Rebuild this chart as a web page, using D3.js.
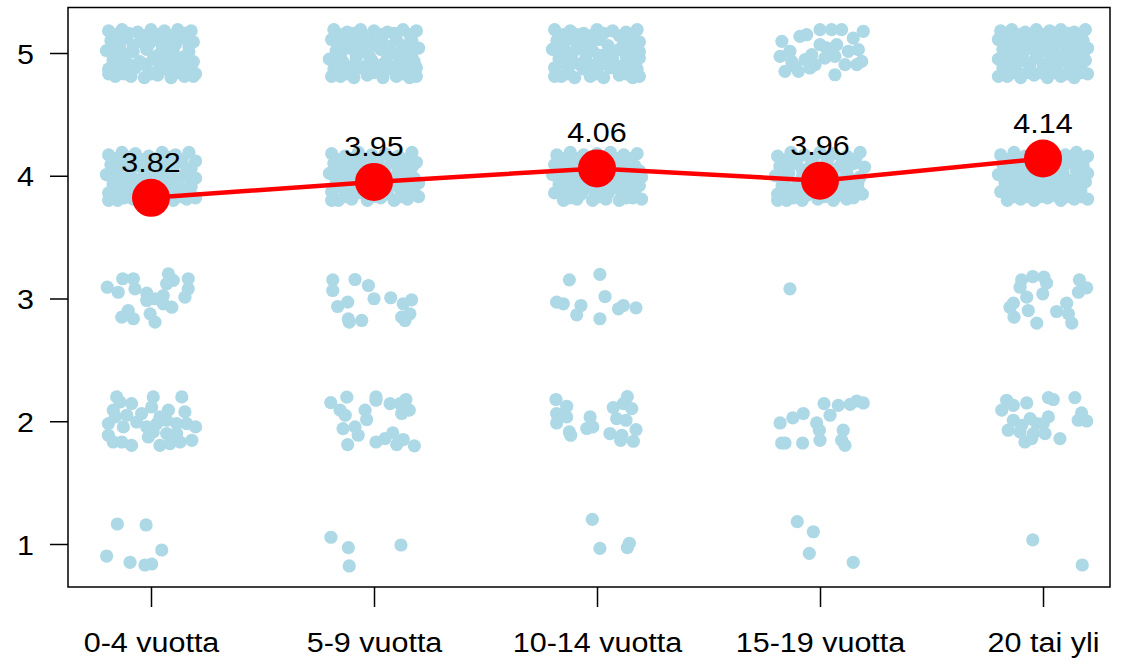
<!DOCTYPE html>
<html>
<head>
<meta charset="utf-8">
<script src="https://cdn.jsdelivr.net/npm/d3@7"></script>
<style>
  html, body { margin: 0; padding: 0; background: #ffffff; }
  svg { display: block; }
  text { font-family: "Liberation Sans", Arial, sans-serif; fill: #000; }
</style>
</head>
<body>
<svg id="chart" width="1121" height="665"></svg>
<script>
// ---------------- DATA ----------------
const categories = ["0-4 vuotta", "5-9 vuotta", "10-14 vuotta", "15-19 vuotta", "20 tai yli"];
const means = [3.82, 3.95, 4.06, 3.96, 4.14];
const yTicks = [1, 2, 3, 4, 5];

// Jittered responses per group, keyed by answer level.
// Each entry: [x jitter, y jitter] in hundredths of a unit.
const pts_0_4 = {
  5: [[-19,18],[-13,19],[-6,17],[0,19],[6,18],[12,19],[18,18],
      [-18,10],[-11,12],[-5,9],[2,11],[8,10],[14,12],[19,9],
      [-20,2],[-14,4],[-8,1],[-2,3],[5,2],[10,4],[17,1],
      [-17,-6],[-12,-4],[-5,-7],[1,-5],[7,-6],[13,-4],[19,-7],
      [-19,-13],[-13,-14],[-7,-12],[-1,-15],[6,-13],[11,-14],[18,-12],
      [-16,-19],[-9,-19],[-3,-20],[3,-18],[9,-20],[15,-19],[20,-17],
      [-16,15],[-10,16],[-3,14],[3,15],[9,14],[15,16],[-15,7],[-8,6],[-1,7],[5,6],
      [11,7],[17,5],[-17,-2],[-11,-1],[3,-2],[9,-1],[15,-3],[-15,-9],[-9,-10],
      [-3,-9],[4,-10],[10,-9],[16,-10],[-12,-17],[0,-17],[12,-16],[-19,-17],[19,-19]],
  4: [[-19,17],[-13,19],[-7,18],[-1,16],[5,19],[11,17],[17,19],[20,12],
      [-18,9],[-12,11],[-6,8],[0,10],[7,9],[13,11],[18,6],
      [-20,1],[-15,3],[-9,0],[-3,2],[3,1],[9,3],[15,0],[20,-2],
      [-17,-7],[-11,-5],[-5,-8],[1,-6],[7,-4],[12,-8],[18,-9],
      [-19,-14],[-13,-13],[-7,-15],[-1,-12],[5,-14],[11,-16],[17,-14],
      [-15,-20],[-8,-19],[-2,-20],[4,-19],[10,-20],[16,-19],[20,-18],
      [-16,14],[-10,15],[-4,13],[2,14],[8,15],[14,13],[-15,5],[-9,6],[-3,5],[4,6],
      [10,7],[16,4],[-17,-3],[-12,-2],[-6,-4],[0,-2],[6,-1],[12,-3],[18,-5],
      [-15,-10],[-9,-11],[-3,-10],[3,-9],[9,-12],[15,-11],[-12,-18],[1,-17],[13,-17],[-19,-20]],
  3: [[-19.6,9.2],[-14.7,5.1],[-12.7,16.1],[-7.9,16.1],[-7.2,7.9],[-1.9,4.3],
      [1.8,-0.2],[5.5,2.4],[7.8,20.1],[10,14.7],[16.7,16.1],[16.7,7.9],
      [15.2,1.1],[9.3,-7.1],[5.5,-4.3],[-0.4,-12.5],[1.8,-19.3],[-13.1,-15.2],
      [-10.2,-9.8],[-7.9,-16.5],[7,12],[-1.9,-1.6]],
  2: [[-15.4,19.8],[-13.9,15.7],[-8.7,14.4],[1,19.8],[13.8,19.8],[7.8,9],
      [15.2,7.6],[-16.9,9],[-10.9,4.9],[-4.2,6.3],[0.3,11.6],[-19.1,-1.9],
      [-12.4,-4.6],[-6.4,-0.6],[-1.9,-4.6],[2.6,-1.9],[7,0.8],[11.5,-1.9],
      [16,-1.9],[20,-4.6],[-19.1,-11.4],[-16.9,-16.9],[-13.1,-16.9],[-8.7,-19.6],
      [-1.2,-12.8],[4,-19.6],[8.5,-18.2],[13,-16.9],[18.3,-15.5],[1,-8.7],
      [7,-10],[11.5,-10],[4,3.5],[-16.1,3.5]],
  1: [[-15.1,16.3],[-2.2,15.5],[4.8,-4.9],[-19.9,-9.8],[-9.4,-14.9],[-2.7,-17.1],[0.3,-16.3]]
};

const pts_5_9 = {
  5: [[-18,19],[-12,17],[-6,19],[0,18],[6,17],[13,19],[19,18],
      [-19,11],[-14,9],[-8,12],[-2,10],[4,8],[10,11],[17,10],
      [-17,2],[-11,4],[-4,1],[3,3],[9,0],[15,2],[20,4],
      [-20,-5],[-14,-7],[-8,-4],[-1,-6],[5,-8],[12,-5],[18,-7],
      [-18,-13],[-12,-15],[-6,-12],[1,-14],[7,-13],[14,-15],[19,-12],
      [-15,-19],[-9,-20],[-3,-18],[4,-20],[10,-19],[16,-20],
      [-15,15],[-9,16],[-3,14],[3,15],[9,16],[16,15],[-16,6],[-10,7],[-5,5],[1,6],
      [7,5],[13,6],[-15,-2],[-8,-1],[-2,-3],[6,-2],[12,-1],[17,-3],[-16,-10],
      [-10,-11],[-3,-10],[4,-9],[10,-10],[16,-11],[-12,-17],[0,-16],[13,-17],[19,-19],[-19,-19]],
  4: [[-19,18],[-13,16],[-7,19],[-1,17],[5,18],[11,16],[17,19],
      [-18,10],[-12,8],[-5,11],[1,9],[8,11],[14,9],[19,11],
      [-20,2],[-14,0],[-8,3],[-2,1],[4,2],[10,0],[16,3],
      [-17,-6],[-11,-4],[-4,-7],[2,-5],[8,-7],[14,-4],[20,-6],
      [-19,-13],[-13,-12],[-7,-14],[0,-13],[6,-15],[12,-12],[18,-14],
      [-16,-20],[-10,-19],[-3,-20],[3,-18],[9,-20],[15,-19],[20,-17],
      [-16,13],[-10,14],[-4,14],[2,13],[8,14],[14,13],[-15,5],[-9,6],[-2,5],[5,6],
      [11,5],[17,7],[-17,-2],[-11,0],[-5,-2],[1,-1],[7,-2],[13,-1],[18,-2],
      [-16,-9],[-9,-10],[-2,-9],[5,-10],[11,-9],[16,-10],[-13,-17],[0,-17],[12,-17],[-19,-20]],
  3: [[-18.5,15.2],[-18.5,6.5],[-8.5,15.5],[-2.5,10.6],[-16.3,-6.5],[-11.8,-3],
      [0,-0.2],[7.5,0.6],[-11.5,-16.6],[-11.1,-19.3],[-5.5,-17.9],[16.9,-1.1],
      [13.1,-4.3],[16.1,-12.5],[12.4,-15.2],[13.9,-17.9]],
  2: [[-19.4,15.2],[-12.2,19.6],[-15.2,9],[-12.9,4.9],[-4,9],[-3.3,1.4],
      [0.9,19.8],[0.9,17.1],[7.2,14.4],[11.7,14.4],[14.3,17.7],[15.8,9],
      [12.4,6.3],[-13.9,-6],[-8.5,-4.6],[-7.1,-11.4],[-11.8,-19],[0.9,-16.9],
      [4.9,-14.1],[8.4,-9.5],[10.2,-19],[13.1,-14.9],[18.1,-20]],
  1: [[-19.3,5.5],[-11.5,-3],[-11.1,-17.9],[12.1,-0.8]]
};

const pts_10_14 = {
  5: [[-19,19],[-12,18],[-6,16],[0,19],[7,18],[13,17],[18,19],
      [-18,10],[-12,12],[-6,9],[1,11],[5,6],[12,10],[19,9],
      [-20,3],[-14,1],[-8,4],[-2,2],[4,-1],[10,3],[16,1],
      [-17,-5],[-11,-7],[-5,-4],[1,-6],[7,-5],[13,-8],[19,-4],
      [-19,-12],[-13,-14],[-6,-13],[0,-15],[6,-12],[12,-15],[18,-13],
      [-16,-19],[-10,-20],[-3,-19],[3,-20],[10,-18],[16,-20],
      [-15,15],[-9,15],[-3,14],[3,16],[10,14],[16,15],[-15,6],[-9,7],[-3,6],[15,5],
      [-17,-1],[-11,0],[-5,0],[1,-2],[7,1],[13,-2],[19,1],[-14,-9],[-8,-9],
      [-2,-10],[4,-9],[10,-11],[16,-9],[-13,-17],[0,-17],[13,-17],[19,-19],[-19,-19]],
  4: [[-18,17],[-12,19],[-6,17],[0,18],[6,19],[12,17],[18,18],
      [-19,9],[-13,11],[-7,8],[-1,10],[5,9],[11,11],[17,8],
      [-20,1],[-15,3],[-9,0],[-3,2],[3,0],[9,3],[15,1],[20,-1],
      [-17,-7],[-11,-5],[-5,-8],[1,-6],[7,-4],[13,-7],[19,-8],
      [-19,-14],[-13,-13],[-7,-15],[-1,-13],[5,-14],[11,-12],[17,-15],
      [-15,-20],[-9,-19],[-2,-20],[4,-19],[10,-20],[16,-18],
      [-15,14],[-9,14],[-3,14],[3,15],[9,14],[15,14],[-16,5],[-10,6],[-4,5],[2,5],
      [8,6],[14,5],[19,4],[-17,-3],[-12,-2],[-6,-4],[0,-3],[6,-1],[12,-3],[17,-4],
      [-15,-10],[-9,-11],[-3,-10],[3,-9],[8,-10],[14,-11],[-12,-18],[1,-17],[13,-18],[20,-19]],
  3: [[-12.4,15.2],[1.3,19.6],[-18.1,-3],[-15.1,-4.3],[-7.2,-5.7],[-9.1,-13.3],
      [1.3,-16.5],[3.6,1.6],[9.6,-8.4],[11.8,-5.7],[17.5,-7.6]],
  2: [[-18.4,17.7],[-13.6,12.2],[-18.1,6.3],[-13.6,3.5],[-18.1,-1.4],[-12.4,-8.7],
      [-11.8,-11.4],[-3.1,3.5],[-4.6,-5.9],[-1.9,-4.6],[13.6,20],[7.3,11.2],
      [11.8,14.4],[15.6,10.3],[8.8,2.2],[13,0.8],[5.8,-10],[11.1,-11.4],
      [10.6,-15.5],[16.3,-16.3],[17.5,-6.8]],
  1: [[-2.1,20],[1.3,-3.5],[13.6,-3],[14.5,0.6]]
};

const pts_15_19 = {
  5: [[-17.1,9.5],[-9,13.6],[-6,14.9],[0,19],[5.2,19],[9.7,19],[19.4,17.7],
      [14.9,12.2],[-17.9,-2.7],[-13.5,1.4],[-12.7,-6.8],[-15.7,-14.9],[-9.7,-14.9],
      [-6.7,-5.4],[-3.7,-1.4],[0,6.8],[3,4.1],[7.5,6.8],[6.7,-2.7],[2.2,-4.1],
      [-2.2,-9.5],[12.7,1.4],[17.2,2.7],[18.7,-6.8],[16.5,-9.5],[11.2,-9.5],
      [6.7,-17.7],[-4.5,-12.2],[-11.2,-10.9]],
  4: [[-19,16],[-13,19],[-7,17],[0,19],[6,18],[12,16],[18,19],
      [-18,8],[-11,10],[-4,9],[3,11],[9,8],[15,10],[20,7],
      [-20,0],[-14,2],[-8,-1],[-1,1],[6,0],[12,2],[18,-1],
      [-17,-8],[-10,-6],[-3,-9],[4,-7],[10,-9],[17,-6],
      [-19,-15],[-12,-14],[-6,-16],[2,-14],[8,-16],[14,-13],[19,-15],
      [-15,-20],[-8,-20],[-1,-19],[6,-20],[12,-19],
      [-16,13],[-10,14],[-3,14],[4,15],[10,13],[16,14],[-15,5],[-8,5],[-1,6],[6,5],
      [12,6],[-16,-4],[-6,-4],[1,-3],[8,-4],[14,-3],[-14,-11],[-8,-11],[-1,-12],
      [5,-10],[12,-10],[17,-10],[-12,-18],[2,-17],[15,-18],[-19,-20]],
  3: [[-13.5,7.9]],
  2: [[-17.9,-1.4],[-17.2,-17.7],[-15.7,-17.7],[-12.2,2.7],[-7.5,6.3],[-7.8,-17.7],
      [1.8,14.4],[4.5,4.9],[8.2,13],[-1.5,-1.4],[-0.3,-7.3],[0,-15.5],
      [10.4,-7.3],[9.7,-15.5],[11.2,-19.6],[13.5,13.8],[16.5,16.5],[19.4,14.9]],
  1: [[-10.2,18.2],[-3,10],[-4.8,-7.6],[14.9,-14.9]]
};

const pts_20 = {
  5: [[-19,18],[-14,19],[-8,17],[-3,19],[3,18],[8,19],[14,17],[19,19],
      [-20,11],[-15,9],[-10,12],[-4,10],[1,11],[7,9],[12,12],[18,10],
      [-18,3],[-12,1],[-6,4],[0,2],[5,0],[11,3],[16,1],[20,4],
      [-20,-5],[-15,-3],[-9,-6],[-3,-4],[3,-7],[9,-5],[14,-3],[19,-6],
      [-18,-12],[-12,-14],[-6,-11],[0,-13],[6,-12],[12,-14],[17,-12],
      [-16,-19],[-10,-20],[-4,-18],[2,-20],[8,-19],[14,-20],[20,-17],
      [-17,15],[-11,15],[-5,14],[0,15],[6,14],[11,16],[17,14],[-17,6],[-12,5],[-7,7],
      [-1,6],[4,5],[10,6],[15,5],[-15,-1],[-9,0],[-3,-1],[3,-1],[8,-2],[13,-1],[18,-2],
      [-17,-9],[-12,-8],[-6,-8],[0,-9],[6,-9],[11,-8],[16,-9],[-13,-16],[-7,-16],
      [-1,-16],[5,-16],[11,-17],[17,-16],[-20,-19]],
  4: [[-19,17],[-13,19],[-8,16],[-2,18],[4,19],[10,17],[15,19],[20,16],
      [-18,9],[-12,11],[-6,8],[0,10],[6,9],[12,11],[18,8],
      [-20,1],[-14,3],[-9,0],[-3,2],[3,0],[9,2],[15,-1],[20,2],
      [-17,-6],[-11,-8],[-5,-5],[1,-7],[7,-6],[13,-8],[19,-5],
      [-19,-13],[-13,-15],[-7,-12],[-1,-14],[5,-13],[11,-15],[17,-12],
      [-16,-20],[-10,-19],[-4,-20],[2,-18],[8,-20],[14,-19],[20,-19],
      [-16,13],[-10,14],[-5,13],[1,14],[7,14],[13,13],[18,12],[-15,5],[-9,5],[-3,6],
      [3,5],[9,6],[15,4],[-17,-3],[-12,-3],[-6,-2],[0,-3],[6,-2],[12,-4],[17,-2],
      [-15,-10],[-9,-10],[-3,-10],[3,-10],[9,-11],[15,-10],[-13,-17],[-7,-17],
      [-1,-17],[5,-16],[11,-17],[17,-17]],
  3: [[-9.6,15.2],[-4.6,17.9],[0.4,17.4],[1.6,12.5],[-10.3,9.2],[-7.3,1.1],
      [-0.1,3.8],[-13.3,-3.8],[-14.8,-7.1],[-13,-15.2],[-6.6,-9.8],[-2.8,-20],
      [16.3,15.2],[19.6,8.7],[15.9,5.1],[10.6,-3.8],[6.1,-10.6],[11.4,-12.5],[12.9,-20]],
  2: [[-16.3,17.1],[-13.3,13],[-7.3,14.9],[-18.5,9],[2.4,19.3],[4.6,17.7],
      [14.3,19.3],[17.3,6.8],[15.8,0.8],[19.6,0.2],[-13.3,0.8],[-9.6,-3.3],
      [-5.8,2.2],[-2.8,-1.9],[2.4,3.5],[0.1,-1.9],[-15.6,-7.3],[-10.3,-8.7],
      [-4.3,-10],[0.9,-10],[-8.1,-16.9],[-5.1,-14.1],[7.6,-14.1]],
  1: [[-4.6,3.3],[17.6,-17.1]]
};

const groups = [pts_0_4, pts_5_9, pts_10_14, pts_15_19, pts_20];

// ---------------- CHART ----------------
const svg = d3.select("#chart");
const W = 1121, H = 665;
const mLeft = 68, mRight = 1110, mTop = 7.5, mBottom = 587;
const FS = 28;       // font size
const SX = 1.09;     // horizontal text stretch seen in the reference

const x = d3.scaleLinear().domain([0.6278, 5.3004]).range([mLeft, mRight]);
const y = d3.scaleLinear().domain([0.6497, 5.3707]).range([mBottom, mTop]);

svg.append("rect").attr("width", W).attr("height", H).attr("fill", "#fff");

// flatten jittered points
const pts = [];
groups.forEach((g, gi) => {
  yTicks.forEach(level => {
    (g[level] || []).forEach(p => {
      pts.push({ xv: gi + 1 + p[0] / 100, yv: level + p[1] / 100 });
    });
  });
});

svg.append("g").selectAll("circle").data(pts).join("circle")
  .attr("cx", d => x(d.xv))
  .attr("cy", d => y(d.yv))
  .attr("r", 6.6)
  .attr("fill", "#ADD8E6");

// mean line
const meanData = means.map((m, i) => ({ xv: i + 1, yv: m }));
svg.append("path")
  .datum(meanData)
  .attr("fill", "none")
  .attr("stroke", "#FF0000")
  .attr("stroke-width", 4.5)
  .attr("d", d3.line().x(d => x(d.xv)).y(d => y(d.yv)));

svg.append("g").selectAll("circle").data(meanData).join("circle")
  .attr("cx", d => x(d.xv))
  .attr("cy", d => y(d.yv))
  .attr("r", 19)
  .attr("fill", "#FF0000");

svg.append("g").selectAll("text").data(meanData).join("text")
  .attr("transform", d => `translate(${x(d.xv)},${y(d.yv) - 26}) scale(${SX},1)`)
  .attr("text-anchor", "middle")
  .attr("font-size", FS)
  .text(d => d.yv.toFixed(2));

// plot box
svg.append("rect")
  .attr("x", mLeft).attr("y", mTop)
  .attr("width", mRight - mLeft).attr("height", mBottom - mTop)
  .attr("fill", "none").attr("stroke", "#000").attr("stroke-width", 1.5);

// x axis
const xAxis = svg.append("g")
  .attr("transform", `translate(0,${mBottom})`)
  .call(d3.axisBottom(x).tickValues([1, 2, 3, 4, 5])
        .tickFormat((d, i) => categories[i]).tickSize(20).tickSizeOuter(0));
xAxis.select(".domain").remove();
xAxis.selectAll(".tick line").attr("stroke", "#000").attr("stroke-width", 1.5);
xAxis.selectAll(".tick text")
  .attr("y", 65).attr("dy", 0)
  .attr("transform", `scale(${SX},1)`)
  .attr("font-size", FS)
  .attr("font-family", '"Liberation Sans", Arial, sans-serif')
  .attr("fill", "#000");

// y axis
const yAxis = svg.append("g")
  .attr("transform", `translate(${mLeft},0)`)
  .call(d3.axisLeft(y).tickValues(yTicks).tickFormat(d3.format("d")).tickSize(18).tickPadding(16).tickSizeOuter(0));
yAxis.select(".domain").remove();
yAxis.selectAll(".tick line").attr("stroke", "#000").attr("stroke-width", 1.5);
yAxis.selectAll(".tick text")
  .attr("x", -34 / SX)
  .attr("dy", "0.36em")
  .attr("transform", `scale(${SX},1)`)
  .attr("font-size", FS)
  .attr("font-family", '"Liberation Sans", Arial, sans-serif')
  .attr("fill", "#000");
</script>
</body>
</html>
